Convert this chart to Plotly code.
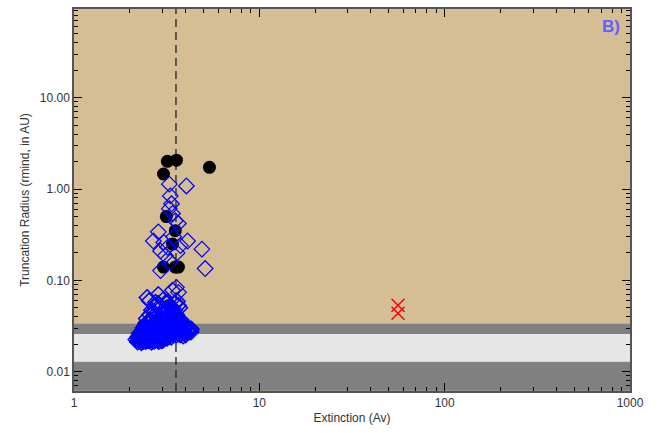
import plotly.graph_objects as go

# ---- data ----
x_ticks = [1, 10, 100, 1000]
x_tick_labels = ["1", "10", "100", "1000"]
y_ticks = [0.01, 0.1, 1, 10]
y_tick_labels = ["0.01", "0.10", "1.00", "10.00"]

band_dark_low = [0.0062, 0.0129]
band_light = [0.0129, 0.0259]
band_dark_high = [0.0259, 0.0336]
av_cut = 3.55

# black filled circles
black_av = [3.19, 3.57, 3.04, 5.38, 3.15, 3.52, 3.40, 3.04, 3.52, 3.66, 3.40, 3.25,
            2.37, 2.31, 2.52, 2.80, 3.05, 2.95, 2.45, 3.30]
black_r = [2.01, 2.07, 1.46, 1.73, 0.50, 0.35, 0.25, 0.14, 0.14, 0.14, 0.047, 0.053,
           0.032, 0.021, 0.026, 0.030, 0.028, 0.034, 0.024, 0.031]

# blue open diamonds (scattered, upper part)
blue_av_hi = [4.04, 3.27, 3.31, 3.36, 3.27, 3.40, 3.52, 2.68, 2.93, 3.11, 3.75, 4.10,
              4.90, 5.10, 3.66, 2.93, 3.31, 3.57, 3.66, 3.45, 3.20, 2.85, 3.60, 3.05]
blue_r_hi = [1.08, 1.13, 0.84, 0.69, 0.61, 0.54, 0.45, 0.27, 0.21, 0.187, 0.24, 0.27,
             0.22, 0.135, 0.42, 0.128, 0.16, 0.084, 0.074, 0.30, 0.23, 0.34, 0.20, 0.26]

# blue open diamonds (dense clump near the bottom)
blue_av_lo = [2.20, 2.31, 2.44, 2.62, 2.16, 2.29, 2.47, 2.61, 2.79, 3.02,
              2.21, 2.36, 2.52, 2.68, 2.91, 3.12, 3.28, 2.25, 2.41, 2.58,
              2.81, 3.01, 3.22, 3.44, 3.71, 2.32, 2.49, 2.72, 2.93, 3.09,
              3.31, 3.56, 3.82, 4.12, 2.36, 2.57, 2.74, 2.98, 3.21, 3.39,
              3.66, 3.91, 4.22, 2.41, 2.63, 2.86, 3.06, 3.29, 3.52, 3.77,
              4.02, 2.52, 2.76, 2.97, 3.19, 3.46, 3.71, 2.46, 2.69, 3.01,
              3.32, 3.61, 2.56, 2.88, 3.26, 3.58, 2.62, 3.12, 3.48, 2.77,
              3.31, 3.66, 2.55, 3.02, 3.61, 2.48, 2.67, 3.42, 3.85, 2.84,
              2.26, 2.38, 2.53, 2.71, 2.87, 2.24, 2.42, 2.55, 2.73, 2.90,
              3.07, 3.18, 2.28, 2.44, 2.63, 2.85, 3.05, 3.34, 3.55, 3.88,
              2.34, 2.54, 2.78, 2.99, 3.17, 3.41, 3.64, 3.95, 4.28, 2.39,
              2.61, 2.83, 3.09, 3.36, 3.58, 3.83, 4.10, 2.45, 2.66, 2.90,
              3.13, 3.38, 3.62, 3.92, 2.49, 2.71, 2.94, 3.24, 3.54, 3.80,
              2.59, 2.82, 3.07, 3.35, 3.68, 2.66, 2.95, 3.28, 3.52, 2.70,
              3.15, 3.44, 2.92, 3.38, 3.72, 2.75, 3.20, 3.50, 2.85, 3.40,
              2.23, 2.35, 2.50, 2.66, 2.83, 2.97, 2.27, 2.39, 2.58, 2.76,
              2.96, 3.15, 3.35, 2.30, 2.46, 2.64, 2.86, 3.04, 3.26, 3.50,
              3.76, 4.00, 2.33, 2.51, 2.69, 2.89, 3.11, 3.37, 3.62, 3.90,
              4.18, 2.38, 2.58, 2.80, 3.02, 3.25, 3.47, 3.72, 3.97, 4.30,
              2.43, 2.65, 2.92, 3.16, 3.42, 3.69, 3.96, 2.50, 2.73, 3.00,
              3.28, 3.57, 3.84, 2.57, 2.84, 3.14, 3.46, 3.78]
blue_r_lo = [0.0212, 0.0208, 0.0215, 0.0211, 0.0226, 0.0223, 0.0228, 0.0224, 0.0227, 0.0222,
             0.0241, 0.0238, 0.0243, 0.0239, 0.0242, 0.0237, 0.0244, 0.0262, 0.0258, 0.0263,
             0.0257, 0.0261, 0.0259, 0.0264, 0.0256, 0.0281, 0.0278, 0.0283, 0.0279, 0.0282,
             0.0277, 0.0284, 0.0280, 0.0276, 0.0301, 0.0298, 0.0303, 0.0299, 0.0302, 0.0297,
             0.0304, 0.0300, 0.0296, 0.0322, 0.0318, 0.0323, 0.0319, 0.0321, 0.0317, 0.0324,
             0.0320, 0.0352, 0.0348, 0.0353, 0.0349, 0.0351, 0.0347, 0.0382, 0.0378, 0.0383,
             0.0379, 0.0381, 0.0422, 0.0418, 0.0423, 0.0419, 0.0472, 0.0468, 0.0473, 0.0532,
             0.0528, 0.0533, 0.0600, 0.0610, 0.0590, 0.0650, 0.0330, 0.0440, 0.0340, 0.0560,
             0.0218, 0.0216, 0.0219, 0.0217, 0.0215, 0.0232, 0.0234, 0.0231, 0.0233, 0.0235,
             0.0230, 0.0233, 0.0250, 0.0252, 0.0249, 0.0251, 0.0248, 0.0253, 0.0250, 0.0247,
             0.0270, 0.0271, 0.0268, 0.0272, 0.0269, 0.0271, 0.0270, 0.0268, 0.0273, 0.0290,
             0.0291, 0.0289, 0.0292, 0.0290, 0.0288, 0.0291, 0.0289, 0.0311, 0.0309, 0.0312,
             0.0310, 0.0308, 0.0311, 0.0309, 0.0335, 0.0337, 0.0334, 0.0336, 0.0338, 0.0333,
             0.0365, 0.0363, 0.0366, 0.0364, 0.0362, 0.0398, 0.0401, 0.0396, 0.0399, 0.0445,
             0.0447, 0.0443, 0.0500, 0.0498, 0.0502, 0.0575, 0.0570, 0.0565, 0.0700, 0.0780,
             0.0221, 0.0220, 0.0222, 0.0220, 0.0221, 0.0219, 0.0237, 0.0236, 0.0238, 0.0236,
             0.0237, 0.0238, 0.0239, 0.0255, 0.0256, 0.0254, 0.0255, 0.0257, 0.0254, 0.0256,
             0.0255, 0.0254, 0.0275, 0.0274, 0.0276, 0.0275, 0.0274, 0.0276, 0.0275, 0.0273,
             0.0274, 0.0295, 0.0294, 0.0296, 0.0295, 0.0294, 0.0296, 0.0294, 0.0295, 0.0293,
             0.0315, 0.0314, 0.0316, 0.0315, 0.0314, 0.0315, 0.0313, 0.0343, 0.0342, 0.0344,
             0.0343, 0.0341, 0.0344, 0.0372, 0.0370, 0.0373, 0.0371, 0.0369]

# red crosses
red_av = [56.0, 56.0]
red_r = [0.0534, 0.0437]

x_minor = [2, 3, 4, 5, 6, 7, 8, 9, 20, 30, 40, 50, 60, 70, 80, 90,
           200, 300, 400, 500, 600, 700, 800, 900]
y_minor = [0.007, 0.008, 0.009, 0.02, 0.03, 0.04, 0.05, 0.06, 0.07, 0.08, 0.09,
           0.2, 0.3, 0.4, 0.5, 0.6, 0.7, 0.8, 0.9, 2, 3, 4, 5, 6, 7, 8, 9,
           20, 30, 40, 50, 60, 70, 80, 90]

TAN = "#d5bd94"
DARK = "#808080"
LIGHT = "#e6e6e6"
FONT = "Liberation Sans"

fig = go.Figure()

fig.add_trace(go.Scatter(
    x=black_av, y=black_r, mode="markers",
    marker=dict(symbol="circle", size=13, color="black", line=dict(width=0)),
    showlegend=False, hoverinfo="skip"))
fig.add_trace(go.Scatter(
    x=blue_av_lo, y=blue_r_lo, mode="markers",
    marker=dict(symbol="diamond-open", size=12, color="#0000ff", line=dict(width=1.5)),
    showlegend=False, hoverinfo="skip"))
fig.add_trace(go.Scatter(
    x=blue_av_hi, y=blue_r_hi, mode="markers",
    marker=dict(symbol="diamond-open", size=12, color="#0000ff", line=dict(width=1.2)),
    showlegend=False, hoverinfo="skip"))
fig.add_trace(go.Scatter(
    x=red_av, y=red_r, mode="markers",
    marker=dict(symbol="x-thin-open", size=13, color="#ff0000", line=dict(width=1.5)),
    showlegend=False, hoverinfo="skip"))

shapes = []
for (y0, y1), col in [(band_dark_low, DARK), (band_light, LIGHT), (band_dark_high, DARK)]:
    shapes.append(dict(type="rect", xref="paper", yref="y", x0=0, x1=1, y0=y0, y1=y1,
                       fillcolor=col, line=dict(width=0), layer="below"))
shapes.append(dict(type="line", xref="x", yref="paper", x0=av_cut, x1=av_cut, y0=0, y1=1,
                   line=dict(color="#222222", width=1.3, dash="8px,5px"), layer="below"))

axis_common = dict(
    type="log", showgrid=False, zeroline=False,
    showline=True, linecolor="#555555", linewidth=1.5, mirror="allticks",
    ticks="inside", ticklen=8, tickwidth=1, tickcolor="black",
    tickfont=dict(family=FONT, size=12, color="#333333"),
    tickmode="array",
)

fig.update_layout(
    width=665, height=433,
    margin=dict(l=74, r=35, t=7, b=42),
    paper_bgcolor="white", plot_bgcolor=TAN,
    shapes=shapes,
    xaxis=dict(axis_common, range=[0, 3], tickvals=x_ticks, ticktext=x_tick_labels,
               minor=dict(ticks="inside", ticklen=4, tickcolor="black", tickvals=x_minor),
               title=dict(text="Extinction (Av)", font=dict(family=FONT, size=12, color="#333333"),
                          standoff=4)),
    yaxis=dict(axis_common, range=[-2.21, 1.97], tickvals=y_ticks, ticktext=y_tick_labels,
               minor=dict(ticks="inside", ticklen=4, tickcolor="black", tickvals=y_minor),
               title=dict(text="Truncation Radius (rmind, in AU)",
                          font=dict(family=FONT, size=12, color="#333333"), standoff=8)),
    annotations=[dict(text="<b>B)</b>", xref="paper", yref="paper", x=0.985, y=0.985,
                      xanchor="right", yanchor="top", showarrow=False,
                      font=dict(family=FONT, size=17, color="#6060ff"))],
)

fig.write_html("out.html", config={"displayModeBar": False},
               post_script="document.body.style.margin='0';")
